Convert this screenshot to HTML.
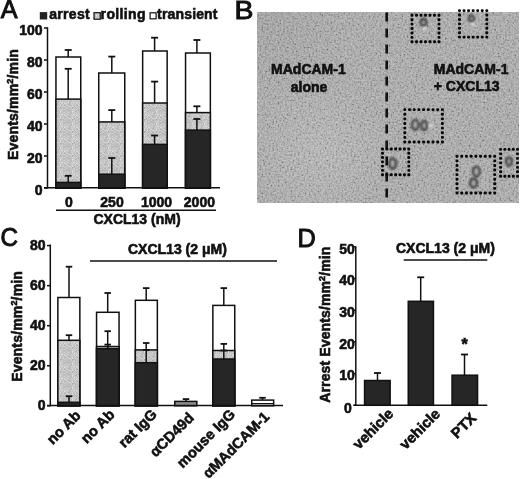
<!DOCTYPE html>
<html><head><meta charset="utf-8"><style>
html,body{margin:0;padding:0;background:#fff;width:520px;height:479px;overflow:hidden}
svg{display:block;will-change:transform;filter:blur(0.3px)}
text{font-family:"Liberation Sans",sans-serif;fill:#111;stroke:#111;stroke-width:0.6px}
text.n{stroke-width:0.95px}
</style></head><body>
<svg width="520" height="479" viewBox="0 0 520 479">
<defs>
<radialGradient id="bgL" gradientUnits="userSpaceOnUse" cx="322" cy="150" r="70"><stop offset="0" stop-color="#bdbdbd" stop-opacity="0.55"/><stop offset="1" stop-color="#bdbdbd" stop-opacity="0"/></radialGradient>
<radialGradient id="bgD" gradientUnits="userSpaceOnUse" cx="262" cy="14" r="90"><stop offset="0" stop-color="#989898" stop-opacity="0.8"/><stop offset="1" stop-color="#989898" stop-opacity="0"/></radialGradient>
<pattern id="stip" patternUnits="userSpaceOnUse" width="12" height="12"><rect x="0" y="0" width="1" height="1" fill="#b3b3b3"/><rect x="1" y="0" width="1" height="1" fill="#c7c7c7"/><rect x="2" y="0" width="1" height="1" fill="#cecece"/><rect x="3" y="0" width="1" height="1" fill="#bcbcbc"/><rect x="4" y="0" width="1" height="1" fill="#b2b2b2"/><rect x="5" y="0" width="1" height="1" fill="#c1c1c1"/><rect x="6" y="0" width="1" height="1" fill="#c8c8c8"/><rect x="7" y="0" width="1" height="1" fill="#cfcfcf"/><rect x="8" y="0" width="1" height="1" fill="#b3b3b3"/><rect x="9" y="0" width="1" height="1" fill="#b2b2b2"/><rect x="10" y="0" width="1" height="1" fill="#cacaca"/><rect x="11" y="0" width="1" height="1" fill="#c8c8c8"/><rect x="0" y="1" width="1" height="1" fill="#d4d4d4"/><rect x="1" y="1" width="1" height="1" fill="#cecece"/><rect x="2" y="1" width="1" height="1" fill="#c1c1c1"/><rect x="3" y="1" width="1" height="1" fill="#bfbfbf"/><rect x="4" y="1" width="1" height="1" fill="#e1e1e1"/><rect x="5" y="1" width="1" height="1" fill="#bfbfbf"/><rect x="6" y="1" width="1" height="1" fill="#b9b9b9"/><rect x="7" y="1" width="1" height="1" fill="#b4b4b4"/><rect x="8" y="1" width="1" height="1" fill="#c3c3c3"/><rect x="9" y="1" width="1" height="1" fill="#c4c4c4"/><rect x="10" y="1" width="1" height="1" fill="#bebebe"/><rect x="11" y="1" width="1" height="1" fill="#c1c1c1"/><rect x="0" y="2" width="1" height="1" fill="#c5c5c5"/><rect x="1" y="2" width="1" height="1" fill="#cacaca"/><rect x="2" y="2" width="1" height="1" fill="#cfcfcf"/><rect x="3" y="2" width="1" height="1" fill="#c5c5c5"/><rect x="4" y="2" width="1" height="1" fill="#adadad"/><rect x="5" y="2" width="1" height="1" fill="#cacaca"/><rect x="6" y="2" width="1" height="1" fill="#b1b1b1"/><rect x="7" y="2" width="1" height="1" fill="#c0c0c0"/><rect x="8" y="2" width="1" height="1" fill="#b0b0b0"/><rect x="9" y="2" width="1" height="1" fill="#c2c2c2"/><rect x="10" y="2" width="1" height="1" fill="#b9b9b9"/><rect x="11" y="2" width="1" height="1" fill="#c5c5c5"/><rect x="0" y="3" width="1" height="1" fill="#eaeaea"/><rect x="1" y="3" width="1" height="1" fill="#c1c1c1"/><rect x="2" y="3" width="1" height="1" fill="#cccccc"/><rect x="3" y="3" width="1" height="1" fill="#b2b2b2"/><rect x="4" y="3" width="1" height="1" fill="#bfbfbf"/><rect x="5" y="3" width="1" height="1" fill="#cacaca"/><rect x="6" y="3" width="1" height="1" fill="#c1c1c1"/><rect x="7" y="3" width="1" height="1" fill="#c6c6c6"/><rect x="8" y="3" width="1" height="1" fill="#c3c3c3"/><rect x="9" y="3" width="1" height="1" fill="#b6b6b6"/><rect x="10" y="3" width="1" height="1" fill="#c9c9c9"/><rect x="11" y="3" width="1" height="1" fill="#b8b8b8"/><rect x="0" y="4" width="1" height="1" fill="#d8d8d8"/><rect x="1" y="4" width="1" height="1" fill="#bcbcbc"/><rect x="2" y="4" width="1" height="1" fill="#cacaca"/><rect x="3" y="4" width="1" height="1" fill="#c2c2c2"/><rect x="4" y="4" width="1" height="1" fill="#cdcdcd"/><rect x="5" y="4" width="1" height="1" fill="#bbbbbb"/><rect x="6" y="4" width="1" height="1" fill="#cecece"/><rect x="7" y="4" width="1" height="1" fill="#c1c1c1"/><rect x="8" y="4" width="1" height="1" fill="#d1d1d1"/><rect x="9" y="4" width="1" height="1" fill="#c9c9c9"/><rect x="10" y="4" width="1" height="1" fill="#c4c4c4"/><rect x="11" y="4" width="1" height="1" fill="#b9b9b9"/><rect x="0" y="5" width="1" height="1" fill="#cbcbcb"/><rect x="1" y="5" width="1" height="1" fill="#c8c8c8"/><rect x="2" y="5" width="1" height="1" fill="#d6d6d6"/><rect x="3" y="5" width="1" height="1" fill="#bdbdbd"/><rect x="4" y="5" width="1" height="1" fill="#c9c9c9"/><rect x="5" y="5" width="1" height="1" fill="#c8c8c8"/><rect x="6" y="5" width="1" height="1" fill="#c5c5c5"/><rect x="7" y="5" width="1" height="1" fill="#c5c5c5"/><rect x="8" y="5" width="1" height="1" fill="#c4c4c4"/><rect x="9" y="5" width="1" height="1" fill="#bbbbbb"/><rect x="10" y="5" width="1" height="1" fill="#b6b6b6"/><rect x="11" y="5" width="1" height="1" fill="#bdbdbd"/><rect x="0" y="6" width="1" height="1" fill="#c9c9c9"/><rect x="1" y="6" width="1" height="1" fill="#d4d4d4"/><rect x="2" y="6" width="1" height="1" fill="#cecece"/><rect x="3" y="6" width="1" height="1" fill="#cfcfcf"/><rect x="4" y="6" width="1" height="1" fill="#cbcbcb"/><rect x="5" y="6" width="1" height="1" fill="#cacaca"/><rect x="6" y="6" width="1" height="1" fill="#c4c4c4"/><rect x="7" y="6" width="1" height="1" fill="#cbcbcb"/><rect x="8" y="6" width="1" height="1" fill="#d7d7d7"/><rect x="9" y="6" width="1" height="1" fill="#bebebe"/><rect x="10" y="6" width="1" height="1" fill="#bababa"/><rect x="11" y="6" width="1" height="1" fill="#dadada"/><rect x="0" y="7" width="1" height="1" fill="#c5c5c5"/><rect x="1" y="7" width="1" height="1" fill="#cecece"/><rect x="2" y="7" width="1" height="1" fill="#cccccc"/><rect x="3" y="7" width="1" height="1" fill="#b4b4b4"/><rect x="4" y="7" width="1" height="1" fill="#dfdfdf"/><rect x="5" y="7" width="1" height="1" fill="#d7d7d7"/><rect x="6" y="7" width="1" height="1" fill="#c4c4c4"/><rect x="7" y="7" width="1" height="1" fill="#cbcbcb"/><rect x="8" y="7" width="1" height="1" fill="#c4c4c4"/><rect x="9" y="7" width="1" height="1" fill="#b7b7b7"/><rect x="10" y="7" width="1" height="1" fill="#c1c1c1"/><rect x="11" y="7" width="1" height="1" fill="#c6c6c6"/><rect x="0" y="8" width="1" height="1" fill="#cfcfcf"/><rect x="1" y="8" width="1" height="1" fill="#cbcbcb"/><rect x="2" y="8" width="1" height="1" fill="#c3c3c3"/><rect x="3" y="8" width="1" height="1" fill="#d2d2d2"/><rect x="4" y="8" width="1" height="1" fill="#b9b9b9"/><rect x="5" y="8" width="1" height="1" fill="#cccccc"/><rect x="6" y="8" width="1" height="1" fill="#cfcfcf"/><rect x="7" y="8" width="1" height="1" fill="#bebebe"/><rect x="8" y="8" width="1" height="1" fill="#adadad"/><rect x="9" y="8" width="1" height="1" fill="#b7b7b7"/><rect x="10" y="8" width="1" height="1" fill="#c5c5c5"/><rect x="11" y="8" width="1" height="1" fill="#c8c8c8"/><rect x="0" y="9" width="1" height="1" fill="#d5d5d5"/><rect x="1" y="9" width="1" height="1" fill="#b6b6b6"/><rect x="2" y="9" width="1" height="1" fill="#c2c2c2"/><rect x="3" y="9" width="1" height="1" fill="#cacaca"/><rect x="4" y="9" width="1" height="1" fill="#c0c0c0"/><rect x="5" y="9" width="1" height="1" fill="#a6a6a6"/><rect x="6" y="9" width="1" height="1" fill="#cccccc"/><rect x="7" y="9" width="1" height="1" fill="#dedede"/><rect x="8" y="9" width="1" height="1" fill="#cecece"/><rect x="9" y="9" width="1" height="1" fill="#b7b7b7"/><rect x="10" y="9" width="1" height="1" fill="#bdbdbd"/><rect x="11" y="9" width="1" height="1" fill="#c5c5c5"/><rect x="0" y="10" width="1" height="1" fill="#e0e0e0"/><rect x="1" y="10" width="1" height="1" fill="#c9c9c9"/><rect x="2" y="10" width="1" height="1" fill="#c3c3c3"/><rect x="3" y="10" width="1" height="1" fill="#d5d5d5"/><rect x="4" y="10" width="1" height="1" fill="#c1c1c1"/><rect x="5" y="10" width="1" height="1" fill="#d8d8d8"/><rect x="6" y="10" width="1" height="1" fill="#bababa"/><rect x="7" y="10" width="1" height="1" fill="#bcbcbc"/><rect x="8" y="10" width="1" height="1" fill="#cbcbcb"/><rect x="9" y="10" width="1" height="1" fill="#d3d3d3"/><rect x="10" y="10" width="1" height="1" fill="#cacaca"/><rect x="11" y="10" width="1" height="1" fill="#c6c6c6"/><rect x="0" y="11" width="1" height="1" fill="#a4a4a4"/><rect x="1" y="11" width="1" height="1" fill="#b9b9b9"/><rect x="2" y="11" width="1" height="1" fill="#bbbbbb"/><rect x="3" y="11" width="1" height="1" fill="#bcbcbc"/><rect x="4" y="11" width="1" height="1" fill="#c9c9c9"/><rect x="5" y="11" width="1" height="1" fill="#bebebe"/><rect x="6" y="11" width="1" height="1" fill="#cbcbcb"/><rect x="7" y="11" width="1" height="1" fill="#c3c3c3"/><rect x="8" y="11" width="1" height="1" fill="#bebebe"/><rect x="9" y="11" width="1" height="1" fill="#c3c3c3"/><rect x="10" y="11" width="1" height="1" fill="#c7c7c7"/><rect x="11" y="11" width="1" height="1" fill="#cccccc"/></pattern>
<filter id="blur1" x="-20%" y="-20%" width="140%" height="140%"><feGaussianBlur stdDeviation="0.85"/></filter>
<filter id="noise" x="0" y="0" width="100%" height="100%"><feTurbulence type="fractalNoise" baseFrequency="0.55" numOctaves="2" seed="3"/><feColorMatrix type="matrix" values="2 0 0 0 -0.42  2 0 0 0 -0.42  2 0 0 0 -0.42  0 0 0 0 1"/></filter>
</defs>
<rect x="55.95" y="57" width="24.8" height="131" fill="#fff" stroke="#111" stroke-width="1.5"/>
<rect x="55.95" y="99.1" width="24.8" height="88.9" fill="url(#stip)" stroke="#111" stroke-width="1.5"/>
<rect x="55.95" y="182.4" width="24.8" height="5.6" fill="#262626" stroke="#111" stroke-width="1.5"/>
<rect x="98.75" y="73" width="26" height="115" fill="#fff" stroke="#111" stroke-width="1.5"/>
<rect x="98.75" y="121.9" width="26" height="66.1" fill="url(#stip)" stroke="#111" stroke-width="1.5"/>
<rect x="98.75" y="174.2" width="26" height="13.8" fill="#262626" stroke="#111" stroke-width="1.5"/>
<rect x="142.65" y="51" width="24.5" height="137" fill="#fff" stroke="#111" stroke-width="1.5"/>
<rect x="142.65" y="103" width="24.5" height="85" fill="url(#stip)" stroke="#111" stroke-width="1.5"/>
<rect x="142.65" y="144.4" width="24.5" height="43.6" fill="#262626" stroke="#111" stroke-width="1.5"/>
<rect x="185.55" y="53" width="24.8" height="135" fill="#fff" stroke="#111" stroke-width="1.5"/>
<rect x="185.55" y="112.6" width="24.8" height="75.4" fill="url(#stip)" stroke="#111" stroke-width="1.5"/>
<rect x="185.55" y="130.1" width="24.8" height="57.9" fill="#262626" stroke="#111" stroke-width="1.5"/>
<line x1="68.2" y1="57" x2="68.2" y2="50" stroke="#111" stroke-width="1.5"/>
<line x1="64.7" y1="50" x2="71.7" y2="50" stroke="#111" stroke-width="1.8"/>
<line x1="68.2" y1="99.1" x2="68.2" y2="68.8" stroke="#111" stroke-width="1.5"/>
<line x1="64.7" y1="68.8" x2="71.7" y2="68.8" stroke="#111" stroke-width="1.8"/>
<line x1="68.2" y1="182.4" x2="68.2" y2="175.8" stroke="#111" stroke-width="1.5"/>
<line x1="64.7" y1="175.8" x2="71.7" y2="175.8" stroke="#111" stroke-width="1.8"/>
<line x1="111.8" y1="73" x2="111.8" y2="56.6" stroke="#111" stroke-width="1.5"/>
<line x1="108.3" y1="56.6" x2="115.3" y2="56.6" stroke="#111" stroke-width="1.8"/>
<line x1="111.8" y1="121.9" x2="111.8" y2="110.1" stroke="#111" stroke-width="1.5"/>
<line x1="108.3" y1="110.1" x2="115.3" y2="110.1" stroke="#111" stroke-width="1.8"/>
<line x1="111.8" y1="174.2" x2="111.8" y2="158" stroke="#111" stroke-width="1.5"/>
<line x1="108.3" y1="158" x2="115.3" y2="158" stroke="#111" stroke-width="1.8"/>
<line x1="154.6" y1="51" x2="154.6" y2="37.7" stroke="#111" stroke-width="1.5"/>
<line x1="151.1" y1="37.7" x2="158.1" y2="37.7" stroke="#111" stroke-width="1.8"/>
<line x1="154.6" y1="103" x2="154.6" y2="81.6" stroke="#111" stroke-width="1.5"/>
<line x1="151.1" y1="81.6" x2="158.1" y2="81.6" stroke="#111" stroke-width="1.8"/>
<line x1="154.6" y1="144.4" x2="154.6" y2="135.5" stroke="#111" stroke-width="1.5"/>
<line x1="151.1" y1="135.5" x2="158.1" y2="135.5" stroke="#111" stroke-width="1.8"/>
<line x1="196.9" y1="53" x2="196.9" y2="40" stroke="#111" stroke-width="1.5"/>
<line x1="193.4" y1="40" x2="200.4" y2="40" stroke="#111" stroke-width="1.8"/>
<line x1="196.9" y1="112.6" x2="196.9" y2="106.3" stroke="#111" stroke-width="1.5"/>
<line x1="193.4" y1="106.3" x2="200.4" y2="106.3" stroke="#111" stroke-width="1.8"/>
<line x1="196.9" y1="130.1" x2="196.9" y2="119" stroke="#111" stroke-width="1.5"/>
<line x1="193.4" y1="119" x2="200.4" y2="119" stroke="#111" stroke-width="1.8"/>
<line x1="47.5" y1="27.3" x2="47.5" y2="188.5" stroke="#111" stroke-width="1.5"/>
<line x1="44" y1="187.8" x2="220" y2="187.8" stroke="#111" stroke-width="1.5"/>
<line x1="44" y1="28" x2="47.5" y2="28" stroke="#111" stroke-width="1.5"/>
<text x="42.5" y="34.8" font-size="14" font-weight="bold" text-anchor="end" >100</text>
<line x1="44" y1="60" x2="47.5" y2="60" stroke="#111" stroke-width="1.5"/>
<text x="42.5" y="66.8" font-size="14" font-weight="bold" text-anchor="end" >80</text>
<line x1="44" y1="92" x2="47.5" y2="92" stroke="#111" stroke-width="1.5"/>
<text x="42.5" y="98.8" font-size="14" font-weight="bold" text-anchor="end" >60</text>
<line x1="44" y1="124" x2="47.5" y2="124" stroke="#111" stroke-width="1.5"/>
<text x="42.5" y="130.8" font-size="14" font-weight="bold" text-anchor="end" >40</text>
<line x1="44" y1="156" x2="47.5" y2="156" stroke="#111" stroke-width="1.5"/>
<text x="42.5" y="162.8" font-size="14" font-weight="bold" text-anchor="end" >20</text>
<line x1="44" y1="188" x2="47.5" y2="188" stroke="#111" stroke-width="1.5"/>
<text x="42.5" y="194.8" font-size="14" font-weight="bold" text-anchor="end" >0</text>
<text x="69" y="207" font-size="14" font-weight="bold" text-anchor="middle" >0</text>
<text x="112" y="207" font-size="14" font-weight="bold" text-anchor="middle" >250</text>
<text x="156.6" y="207" font-size="14" font-weight="bold" text-anchor="middle" >1000</text>
<text x="199.4" y="207" font-size="14" font-weight="bold" text-anchor="middle" >2000</text>
<line x1="56" y1="210.2" x2="216" y2="210.2" stroke="#111" stroke-width="1.5"/>
<text x="137" y="223.5" font-size="14" font-weight="bold" text-anchor="middle" >CXCL13 (nM)</text>
<rect x="39.8" y="12.1" width="7.4" height="7.4" fill="#222"/>
<text x="49.3" y="19.3" font-size="14" font-weight="bold" text-anchor="start" letter-spacing="0.28">arrest</text>
<rect x="94" y="12.7" width="6.3" height="6.5" fill="url(#stip)" stroke="#111" stroke-width="1.2"/>
<text x="100.6" y="19.3" font-size="14" font-weight="bold" text-anchor="start" letter-spacing="0.36">rolling</text>
<rect x="150.1" y="12.8" width="6" height="6" fill="#fff" stroke="#111" stroke-width="1.2"/>
<text x="157.1" y="19.3" font-size="14" font-weight="bold" text-anchor="start" letter-spacing="0.16">transient</text>
<text transform="translate(18.2,159.9) rotate(-90)" font-size="14" font-weight="bold" letter-spacing="0.17">Events/mm<tspan font-size="9" dy="-5">2</tspan><tspan dy="5">/min</tspan></text>
<text x="0.7" y="18.1" font-size="25.2" font-weight="normal" text-anchor="start" class="n">A</text>
<text class="n" transform="translate(234.5,19) scale(1.13,1)" font-size="25.2" font-weight="normal">B</text>
<rect x="257" y="12" width="262" height="191" fill="#a4a4a4"/>
<rect x="257" y="12" width="262" height="191" fill="url(#bgL)"/>
<rect x="257" y="12" width="262" height="191" fill="url(#bgD)"/>
<rect x="257" y="12" width="262" height="191" fill="#fff" filter="url(#noise)" opacity="0.28"/>
<line x1="386.7" y1="12.5" x2="386.7" y2="203" stroke="#111" stroke-width="2.6" stroke-dasharray="9 7"/>
<g filter="url(#blur1)">
<ellipse cx="423.5" cy="22.5" rx="2.6" ry="3.3" fill="#b0b0b0" stroke="#262626" stroke-width="2.2"/>
<ellipse cx="471.5" cy="18.5" rx="2.4" ry="2.8" fill="#b0b0b0" stroke="#363636" stroke-width="2.2"/>
<ellipse cx="415.2" cy="124.8" rx="3.0" ry="4.8" fill="#b0b0b0" stroke="#1c1c1c" stroke-width="2.2"/>
<ellipse cx="424.2" cy="125.5" rx="2.6" ry="4.4" fill="#b0b0b0" stroke="#1e1e1e" stroke-width="2.2"/>
<ellipse cx="392.7" cy="163.5" rx="3.0" ry="4.8" fill="#b0b0b0" stroke="#161616" stroke-width="2.2"/>
<ellipse cx="476.4" cy="171.5" rx="3.2" ry="4.6" fill="#b0b0b0" stroke="#262626" stroke-width="2.2"/>
<ellipse cx="473.6" cy="183" rx="3.2" ry="4.2" fill="#b0b0b0" stroke="#1a1a1a" stroke-width="2.2"/>
<ellipse cx="509" cy="161.5" rx="2.6" ry="4.0" fill="#b0b0b0" stroke="#1c1c1c" stroke-width="2.2"/>
<circle cx="424.5" cy="28.5" r="1.8" fill="#e4e4e4"/>
<circle cx="473" cy="24" r="1.8" fill="#e4e4e4"/>
<circle cx="430.8" cy="125.8" r="1.8" fill="#e4e4e4"/>
</g>
<g fill="#080808">
<rect x="410.55" y="13.85" width="2.9" height="2.9" rx="1"/>
<rect x="410.55" y="18.27" width="2.9" height="2.9" rx="1"/>
<rect x="410.55" y="22.68" width="2.9" height="2.9" rx="1"/>
<rect x="410.55" y="27.1" width="2.9" height="2.9" rx="1"/>
<rect x="410.55" y="31.52" width="2.9" height="2.9" rx="1"/>
<rect x="410.55" y="35.93" width="2.9" height="2.9" rx="1"/>
<rect x="410.55" y="40.35" width="2.9" height="2.9" rx="1"/>
<rect x="415.05" y="13.85" width="2.9" height="2.9" rx="1"/>
<rect x="415.05" y="40.35" width="2.9" height="2.9" rx="1"/>
<rect x="419.55" y="13.85" width="2.9" height="2.9" rx="1"/>
<rect x="419.55" y="40.35" width="2.9" height="2.9" rx="1"/>
<rect x="424.05" y="13.85" width="2.9" height="2.9" rx="1"/>
<rect x="424.05" y="40.35" width="2.9" height="2.9" rx="1"/>
<rect x="428.55" y="13.85" width="2.9" height="2.9" rx="1"/>
<rect x="428.55" y="40.35" width="2.9" height="2.9" rx="1"/>
<rect x="433.05" y="13.85" width="2.9" height="2.9" rx="1"/>
<rect x="433.05" y="40.35" width="2.9" height="2.9" rx="1"/>
<rect x="437.55" y="13.85" width="2.9" height="2.9" rx="1"/>
<rect x="437.55" y="18.27" width="2.9" height="2.9" rx="1"/>
<rect x="437.55" y="22.68" width="2.9" height="2.9" rx="1"/>
<rect x="437.55" y="27.1" width="2.9" height="2.9" rx="1"/>
<rect x="437.55" y="31.52" width="2.9" height="2.9" rx="1"/>
<rect x="437.55" y="35.93" width="2.9" height="2.9" rx="1"/>
<rect x="437.55" y="40.35" width="2.9" height="2.9" rx="1"/>
<rect x="458.05" y="9.15" width="2.9" height="2.9" rx="1"/>
<rect x="458.05" y="13.57" width="2.9" height="2.9" rx="1"/>
<rect x="458.05" y="17.98" width="2.9" height="2.9" rx="1"/>
<rect x="458.05" y="22.4" width="2.9" height="2.9" rx="1"/>
<rect x="458.05" y="26.82" width="2.9" height="2.9" rx="1"/>
<rect x="458.05" y="31.23" width="2.9" height="2.9" rx="1"/>
<rect x="458.05" y="35.65" width="2.9" height="2.9" rx="1"/>
<rect x="462.6" y="9.15" width="2.9" height="2.9" rx="1"/>
<rect x="462.6" y="35.65" width="2.9" height="2.9" rx="1"/>
<rect x="467.15" y="9.15" width="2.9" height="2.9" rx="1"/>
<rect x="467.15" y="35.65" width="2.9" height="2.9" rx="1"/>
<rect x="471.7" y="9.15" width="2.9" height="2.9" rx="1"/>
<rect x="471.7" y="35.65" width="2.9" height="2.9" rx="1"/>
<rect x="476.25" y="9.15" width="2.9" height="2.9" rx="1"/>
<rect x="476.25" y="35.65" width="2.9" height="2.9" rx="1"/>
<rect x="480.8" y="9.15" width="2.9" height="2.9" rx="1"/>
<rect x="480.8" y="35.65" width="2.9" height="2.9" rx="1"/>
<rect x="485.35" y="9.15" width="2.9" height="2.9" rx="1"/>
<rect x="485.35" y="13.57" width="2.9" height="2.9" rx="1"/>
<rect x="485.35" y="17.98" width="2.9" height="2.9" rx="1"/>
<rect x="485.35" y="22.4" width="2.9" height="2.9" rx="1"/>
<rect x="485.35" y="26.82" width="2.9" height="2.9" rx="1"/>
<rect x="485.35" y="31.23" width="2.9" height="2.9" rx="1"/>
<rect x="485.35" y="35.65" width="2.9" height="2.9" rx="1"/>
<rect x="403.35" y="108.15" width="2.9" height="2.9" rx="1"/>
<rect x="403.35" y="112.78" width="2.9" height="2.9" rx="1"/>
<rect x="403.35" y="117.41" width="2.9" height="2.9" rx="1"/>
<rect x="403.35" y="122.04" width="2.9" height="2.9" rx="1"/>
<rect x="403.35" y="126.66" width="2.9" height="2.9" rx="1"/>
<rect x="403.35" y="131.29" width="2.9" height="2.9" rx="1"/>
<rect x="403.35" y="135.92" width="2.9" height="2.9" rx="1"/>
<rect x="403.35" y="140.55" width="2.9" height="2.9" rx="1"/>
<rect x="408.05" y="108.15" width="2.9" height="2.9" rx="1"/>
<rect x="408.05" y="140.55" width="2.9" height="2.9" rx="1"/>
<rect x="412.75" y="108.15" width="2.9" height="2.9" rx="1"/>
<rect x="412.75" y="140.55" width="2.9" height="2.9" rx="1"/>
<rect x="417.45" y="108.15" width="2.9" height="2.9" rx="1"/>
<rect x="417.45" y="140.55" width="2.9" height="2.9" rx="1"/>
<rect x="422.15" y="108.15" width="2.9" height="2.9" rx="1"/>
<rect x="422.15" y="140.55" width="2.9" height="2.9" rx="1"/>
<rect x="426.85" y="108.15" width="2.9" height="2.9" rx="1"/>
<rect x="426.85" y="140.55" width="2.9" height="2.9" rx="1"/>
<rect x="431.55" y="108.15" width="2.9" height="2.9" rx="1"/>
<rect x="431.55" y="140.55" width="2.9" height="2.9" rx="1"/>
<rect x="436.25" y="108.15" width="2.9" height="2.9" rx="1"/>
<rect x="436.25" y="140.55" width="2.9" height="2.9" rx="1"/>
<rect x="440.95" y="108.15" width="2.9" height="2.9" rx="1"/>
<rect x="440.95" y="112.78" width="2.9" height="2.9" rx="1"/>
<rect x="440.95" y="117.41" width="2.9" height="2.9" rx="1"/>
<rect x="440.95" y="122.04" width="2.9" height="2.9" rx="1"/>
<rect x="440.95" y="126.66" width="2.9" height="2.9" rx="1"/>
<rect x="440.95" y="131.29" width="2.9" height="2.9" rx="1"/>
<rect x="440.95" y="135.92" width="2.9" height="2.9" rx="1"/>
<rect x="440.95" y="140.55" width="2.9" height="2.9" rx="1"/>
<rect x="381.05" y="147.55" width="2.9" height="2.9" rx="1"/>
<rect x="381.05" y="151.83" width="2.9" height="2.9" rx="1"/>
<rect x="381.05" y="156.12" width="2.9" height="2.9" rx="1"/>
<rect x="381.05" y="160.4" width="2.9" height="2.9" rx="1"/>
<rect x="381.05" y="164.68" width="2.9" height="2.9" rx="1"/>
<rect x="381.05" y="168.97" width="2.9" height="2.9" rx="1"/>
<rect x="381.05" y="173.25" width="2.9" height="2.9" rx="1"/>
<rect x="385.43" y="147.55" width="2.9" height="2.9" rx="1"/>
<rect x="385.43" y="173.25" width="2.9" height="2.9" rx="1"/>
<rect x="389.82" y="147.55" width="2.9" height="2.9" rx="1"/>
<rect x="389.82" y="173.25" width="2.9" height="2.9" rx="1"/>
<rect x="394.2" y="147.55" width="2.9" height="2.9" rx="1"/>
<rect x="394.2" y="173.25" width="2.9" height="2.9" rx="1"/>
<rect x="398.58" y="147.55" width="2.9" height="2.9" rx="1"/>
<rect x="398.58" y="173.25" width="2.9" height="2.9" rx="1"/>
<rect x="402.97" y="147.55" width="2.9" height="2.9" rx="1"/>
<rect x="402.97" y="173.25" width="2.9" height="2.9" rx="1"/>
<rect x="407.35" y="147.55" width="2.9" height="2.9" rx="1"/>
<rect x="407.35" y="151.83" width="2.9" height="2.9" rx="1"/>
<rect x="407.35" y="156.12" width="2.9" height="2.9" rx="1"/>
<rect x="407.35" y="160.4" width="2.9" height="2.9" rx="1"/>
<rect x="407.35" y="164.68" width="2.9" height="2.9" rx="1"/>
<rect x="407.35" y="168.97" width="2.9" height="2.9" rx="1"/>
<rect x="407.35" y="173.25" width="2.9" height="2.9" rx="1"/>
<rect x="455.55" y="154.85" width="2.9" height="2.9" rx="1"/>
<rect x="455.55" y="159.44" width="2.9" height="2.9" rx="1"/>
<rect x="455.55" y="164.03" width="2.9" height="2.9" rx="1"/>
<rect x="455.55" y="168.61" width="2.9" height="2.9" rx="1"/>
<rect x="455.55" y="173.2" width="2.9" height="2.9" rx="1"/>
<rect x="455.55" y="177.79" width="2.9" height="2.9" rx="1"/>
<rect x="455.55" y="182.37" width="2.9" height="2.9" rx="1"/>
<rect x="455.55" y="186.96" width="2.9" height="2.9" rx="1"/>
<rect x="455.55" y="191.55" width="2.9" height="2.9" rx="1"/>
<rect x="460.26" y="154.85" width="2.9" height="2.9" rx="1"/>
<rect x="460.26" y="191.55" width="2.9" height="2.9" rx="1"/>
<rect x="464.98" y="154.85" width="2.9" height="2.9" rx="1"/>
<rect x="464.98" y="191.55" width="2.9" height="2.9" rx="1"/>
<rect x="469.69" y="154.85" width="2.9" height="2.9" rx="1"/>
<rect x="469.69" y="191.55" width="2.9" height="2.9" rx="1"/>
<rect x="474.4" y="154.85" width="2.9" height="2.9" rx="1"/>
<rect x="474.4" y="191.55" width="2.9" height="2.9" rx="1"/>
<rect x="479.11" y="154.85" width="2.9" height="2.9" rx="1"/>
<rect x="479.11" y="191.55" width="2.9" height="2.9" rx="1"/>
<rect x="483.82" y="154.85" width="2.9" height="2.9" rx="1"/>
<rect x="483.82" y="191.55" width="2.9" height="2.9" rx="1"/>
<rect x="488.54" y="154.85" width="2.9" height="2.9" rx="1"/>
<rect x="488.54" y="191.55" width="2.9" height="2.9" rx="1"/>
<rect x="493.25" y="154.85" width="2.9" height="2.9" rx="1"/>
<rect x="493.25" y="159.44" width="2.9" height="2.9" rx="1"/>
<rect x="493.25" y="164.03" width="2.9" height="2.9" rx="1"/>
<rect x="493.25" y="168.61" width="2.9" height="2.9" rx="1"/>
<rect x="493.25" y="173.2" width="2.9" height="2.9" rx="1"/>
<rect x="493.25" y="177.79" width="2.9" height="2.9" rx="1"/>
<rect x="493.25" y="182.37" width="2.9" height="2.9" rx="1"/>
<rect x="493.25" y="186.96" width="2.9" height="2.9" rx="1"/>
<rect x="493.25" y="191.55" width="2.9" height="2.9" rx="1"/>
<rect x="499.15" y="147.95" width="2.9" height="2.9" rx="1"/>
<rect x="499.15" y="152.43" width="2.9" height="2.9" rx="1"/>
<rect x="499.15" y="156.92" width="2.9" height="2.9" rx="1"/>
<rect x="499.15" y="161.4" width="2.9" height="2.9" rx="1"/>
<rect x="499.15" y="165.88" width="2.9" height="2.9" rx="1"/>
<rect x="499.15" y="170.37" width="2.9" height="2.9" rx="1"/>
<rect x="499.15" y="174.85" width="2.9" height="2.9" rx="1"/>
<rect x="503.38" y="147.95" width="2.9" height="2.9" rx="1"/>
<rect x="503.38" y="174.85" width="2.9" height="2.9" rx="1"/>
<rect x="507.6" y="147.95" width="2.9" height="2.9" rx="1"/>
<rect x="507.6" y="174.85" width="2.9" height="2.9" rx="1"/>
<rect x="511.82" y="147.95" width="2.9" height="2.9" rx="1"/>
<rect x="511.82" y="174.85" width="2.9" height="2.9" rx="1"/>
<rect x="516.05" y="147.95" width="2.9" height="2.9" rx="1"/>
<rect x="516.05" y="152.43" width="2.9" height="2.9" rx="1"/>
<rect x="516.05" y="156.92" width="2.9" height="2.9" rx="1"/>
<rect x="516.05" y="161.4" width="2.9" height="2.9" rx="1"/>
<rect x="516.05" y="165.88" width="2.9" height="2.9" rx="1"/>
<rect x="516.05" y="170.37" width="2.9" height="2.9" rx="1"/>
<rect x="516.05" y="174.85" width="2.9" height="2.9" rx="1"/>
</g>
<text x="308.4" y="74" font-size="14" font-weight="bold" text-anchor="middle" >MAdCAM-1</text>
<text x="309" y="91.7" font-size="14" font-weight="bold" text-anchor="middle" >alone</text>
<text x="433.8" y="73.7" font-size="14" font-weight="bold" text-anchor="start" >MAdCAM-1</text>
<text x="433.8" y="90.5" font-size="14" font-weight="bold" text-anchor="start" >+ CXCL13</text>
<text class="n" transform="translate(0.6,246.4) scale(0.95,1)" font-size="25.5" font-weight="normal">C</text>
<rect x="57.85" y="297.5" width="22" height="108.3" fill="#fff" stroke="#111" stroke-width="1.5"/>
<rect x="57.85" y="340.3" width="22" height="65.5" fill="url(#stip)" stroke="#111" stroke-width="1.5"/>
<rect x="57.85" y="402.3" width="22" height="3.5" fill="#262626" stroke="#111" stroke-width="1.5"/>
<rect x="96.55" y="312.3" width="22.5" height="93.5" fill="#fff" stroke="#111" stroke-width="1.5"/>
<rect x="96.55" y="346.5" width="22.5" height="59.3" fill="url(#stip)" stroke="#111" stroke-width="1.5"/>
<rect x="96.55" y="348.7" width="22.5" height="57.1" fill="#262626" stroke="#111" stroke-width="1.5"/>
<rect x="135.35" y="300.3" width="22" height="105.5" fill="#fff" stroke="#111" stroke-width="1.5"/>
<rect x="135.35" y="349.9" width="22" height="55.9" fill="url(#stip)" stroke="#111" stroke-width="1.5"/>
<rect x="135.35" y="362.7" width="22" height="43.1" fill="#262626" stroke="#111" stroke-width="1.5"/>
<rect x="174.75" y="401.4" width="22.1" height="4.4" fill="#8c8c8c" stroke="#111" stroke-width="1.5"/>
<rect x="212.85" y="305.4" width="21.9" height="100.4" fill="#fff" stroke="#111" stroke-width="1.5"/>
<rect x="212.85" y="350.5" width="21.9" height="55.3" fill="url(#stip)" stroke="#111" stroke-width="1.5"/>
<rect x="212.85" y="359" width="21.9" height="46.8" fill="#262626" stroke="#111" stroke-width="1.5"/>
<rect x="251.75" y="400.1" width="21.9" height="5.7" fill="#fff" stroke="#111" stroke-width="1.5"/>
<line x1="251.75" y1="403.6" x2="273.65" y2="403.6" stroke="#111" stroke-width="1.2"/>
<line x1="69" y1="297.5" x2="69" y2="266.7" stroke="#111" stroke-width="1.5"/>
<line x1="65.75" y1="266.7" x2="72.25" y2="266.7" stroke="#111" stroke-width="1.8"/>
<line x1="69" y1="340.3" x2="69" y2="335.2" stroke="#111" stroke-width="1.5"/>
<line x1="65.75" y1="335.2" x2="72.25" y2="335.2" stroke="#111" stroke-width="1.8"/>
<line x1="69" y1="402.3" x2="69" y2="396.2" stroke="#111" stroke-width="1.5"/>
<line x1="65.75" y1="396.2" x2="72.25" y2="396.2" stroke="#111" stroke-width="1.8"/>
<line x1="107.7" y1="312.3" x2="107.7" y2="293" stroke="#111" stroke-width="1.5"/>
<line x1="104.45" y1="293" x2="110.95" y2="293" stroke="#111" stroke-width="1.8"/>
<line x1="107.7" y1="346.5" x2="107.7" y2="344.6" stroke="#111" stroke-width="1.5"/>
<line x1="104.45" y1="344.6" x2="110.95" y2="344.6" stroke="#111" stroke-width="1.8"/>
<line x1="107.7" y1="348.7" x2="107.7" y2="331.2" stroke="#111" stroke-width="1.5"/>
<line x1="104.45" y1="331.2" x2="110.95" y2="331.2" stroke="#111" stroke-width="1.8"/>
<line x1="146.2" y1="300.3" x2="146.2" y2="288.1" stroke="#111" stroke-width="1.5"/>
<line x1="142.95" y1="288.1" x2="149.45" y2="288.1" stroke="#111" stroke-width="1.8"/>
<line x1="146.2" y1="349.9" x2="146.2" y2="343" stroke="#111" stroke-width="1.5"/>
<line x1="142.95" y1="343" x2="149.45" y2="343" stroke="#111" stroke-width="1.8"/>
<line x1="146.2" y1="362.7" x2="146.2" y2="349.9" stroke="#111" stroke-width="1.5"/>
<line x1="142.95" y1="349.9" x2="149.45" y2="349.9" stroke="#111" stroke-width="1.8"/>
<line x1="186" y1="401.4" x2="186" y2="399.1" stroke="#111" stroke-width="1.5"/>
<line x1="182.75" y1="399.1" x2="189.25" y2="399.1" stroke="#111" stroke-width="1.8"/>
<line x1="223.8" y1="305.4" x2="223.8" y2="288.1" stroke="#111" stroke-width="1.5"/>
<line x1="220.55" y1="288.1" x2="227.05" y2="288.1" stroke="#111" stroke-width="1.8"/>
<line x1="223.8" y1="350.5" x2="223.8" y2="343.9" stroke="#111" stroke-width="1.5"/>
<line x1="220.55" y1="343.9" x2="227.05" y2="343.9" stroke="#111" stroke-width="1.8"/>
<line x1="223.8" y1="359" x2="223.8" y2="350.5" stroke="#111" stroke-width="1.5"/>
<line x1="220.55" y1="350.5" x2="227.05" y2="350.5" stroke="#111" stroke-width="1.8"/>
<line x1="262.5" y1="400.1" x2="262.5" y2="397.8" stroke="#111" stroke-width="1.5"/>
<line x1="259.25" y1="397.8" x2="265.75" y2="397.8" stroke="#111" stroke-width="1.8"/>
<line x1="50.3" y1="244.5" x2="50.3" y2="406.3" stroke="#111" stroke-width="1.5"/>
<line x1="47" y1="405.6" x2="283" y2="405.6" stroke="#111" stroke-width="1.5"/>
<line x1="47" y1="245.6" x2="50.3" y2="245.6" stroke="#111" stroke-width="1.5"/>
<text x="45.5" y="250.1" font-size="14" font-weight="bold" text-anchor="end" >80</text>
<line x1="47" y1="285.65" x2="50.3" y2="285.65" stroke="#111" stroke-width="1.5"/>
<text x="45.5" y="290.15" font-size="14" font-weight="bold" text-anchor="end" >60</text>
<line x1="47" y1="325.7" x2="50.3" y2="325.7" stroke="#111" stroke-width="1.5"/>
<text x="45.5" y="330.2" font-size="14" font-weight="bold" text-anchor="end" >40</text>
<line x1="47" y1="365.75" x2="50.3" y2="365.75" stroke="#111" stroke-width="1.5"/>
<text x="45.5" y="370.25" font-size="14" font-weight="bold" text-anchor="end" >20</text>
<line x1="47" y1="405.8" x2="50.3" y2="405.8" stroke="#111" stroke-width="1.5"/>
<text x="45.5" y="410.3" font-size="14" font-weight="bold" text-anchor="end" >0</text>
<text x="128" y="254" font-size="14" font-weight="bold" text-anchor="start" >CXCL13 (2 &#956;M)</text>
<line x1="90" y1="261" x2="277" y2="261" stroke="#111" stroke-width="1.5"/>
<text transform="translate(21.9,381.8) rotate(-90)" font-size="14" font-weight="bold" letter-spacing="0.17">Events/mm<tspan font-size="9" dy="-5">2</tspan><tspan dy="5">/min</tspan></text>
<text transform="translate(81.5,416.5) rotate(-45)" font-size="14.6" font-weight="bold" text-anchor="end">no Ab</text>
<text transform="translate(115.6,415.5) rotate(-45)" font-size="14.6" font-weight="bold" text-anchor="end">no Ab</text>
<text transform="translate(157.7,415.3) rotate(-45)" font-size="14.6" font-weight="bold" text-anchor="end">rat IgG</text>
<text transform="translate(194.8,418.6) rotate(-45)" font-size="14.6" font-weight="bold" text-anchor="end">&#945;CD49d</text>
<text transform="translate(236.1,415.3) rotate(-45)" font-size="14.6" font-weight="bold" text-anchor="end">mouse IgG</text>
<text transform="translate(270.2,417.7) rotate(-45)" font-size="14.6" font-weight="bold" text-anchor="end">&#945;MAdCAM-1</text>
<text x="297.4" y="247.3" font-size="25.3" font-weight="normal" text-anchor="start" class="n">D</text>
<rect x="364.55" y="380.5" width="25.6" height="24.8" fill="#262626" stroke="#111" stroke-width="1.5"/>
<rect x="408.25" y="301.3" width="25.2" height="104" fill="#262626" stroke="#111" stroke-width="1.5"/>
<rect x="452.05" y="375.2" width="25.5" height="30.1" fill="#262626" stroke="#111" stroke-width="1.5"/>
<line x1="377.5" y1="380.5" x2="377.5" y2="373" stroke="#111" stroke-width="1.5"/>
<line x1="374" y1="373" x2="381" y2="373" stroke="#111" stroke-width="1.8"/>
<line x1="420.7" y1="301.3" x2="420.7" y2="277.3" stroke="#111" stroke-width="1.5"/>
<line x1="417.2" y1="277.3" x2="424.2" y2="277.3" stroke="#111" stroke-width="1.8"/>
<line x1="464.5" y1="375.2" x2="464.5" y2="354.5" stroke="#111" stroke-width="1.5"/>
<line x1="461" y1="354.5" x2="468" y2="354.5" stroke="#111" stroke-width="1.8"/>
<line x1="355.8" y1="246.2" x2="355.8" y2="405.8" stroke="#111" stroke-width="1.5"/>
<line x1="353.3" y1="405.3" x2="487.3" y2="405.3" stroke="#111" stroke-width="1.5"/>
<line x1="353.8" y1="246.8" x2="355.8" y2="246.8" stroke="#111" stroke-width="1.5"/>
<text x="354.9" y="253.6" font-size="14" font-weight="bold" text-anchor="end" >50</text>
<line x1="353.8" y1="278.5" x2="355.8" y2="278.5" stroke="#111" stroke-width="1.5"/>
<text x="354.9" y="285.3" font-size="14" font-weight="bold" text-anchor="end" >40</text>
<line x1="353.8" y1="310.2" x2="355.8" y2="310.2" stroke="#111" stroke-width="1.5"/>
<text x="354.9" y="317" font-size="14" font-weight="bold" text-anchor="end" >30</text>
<line x1="353.8" y1="341.9" x2="355.8" y2="341.9" stroke="#111" stroke-width="1.5"/>
<text x="354.9" y="348.7" font-size="14" font-weight="bold" text-anchor="end" >20</text>
<line x1="353.8" y1="373.6" x2="355.8" y2="373.6" stroke="#111" stroke-width="1.5"/>
<text x="354.9" y="380.4" font-size="14" font-weight="bold" text-anchor="end" >10</text>
<line x1="353.8" y1="405.3" x2="355.8" y2="405.3" stroke="#111" stroke-width="1.5"/>
<text x="351.9" y="413.4" font-size="14" font-weight="bold" text-anchor="end" >0</text>
<text x="464.6" y="350" font-size="16" font-weight="bold" text-anchor="middle" >*</text>
<text x="396" y="253.3" font-size="14" font-weight="bold" text-anchor="start" >CXCL13 (2 &#956;M)</text>
<line x1="403.7" y1="260" x2="487.3" y2="260" stroke="#111" stroke-width="1.5"/>
<text transform="translate(330,402.7) rotate(-90)" font-size="14" font-weight="bold" letter-spacing="0.12">Arrest Events/mm<tspan font-size="9" dy="-5">2</tspan><tspan dy="5">/min</tspan></text>
<text transform="translate(394.3,414.6) rotate(-45)" font-size="14.8" font-weight="bold" text-anchor="end">vehicle</text>
<text transform="translate(441.1,414.8) rotate(-45)" font-size="14.8" font-weight="bold" text-anchor="end">vehicle</text>
<text transform="translate(477.3,419) rotate(-45)" font-size="14.8" font-weight="bold" text-anchor="end">PTX</text>
</svg>
</body></html>
